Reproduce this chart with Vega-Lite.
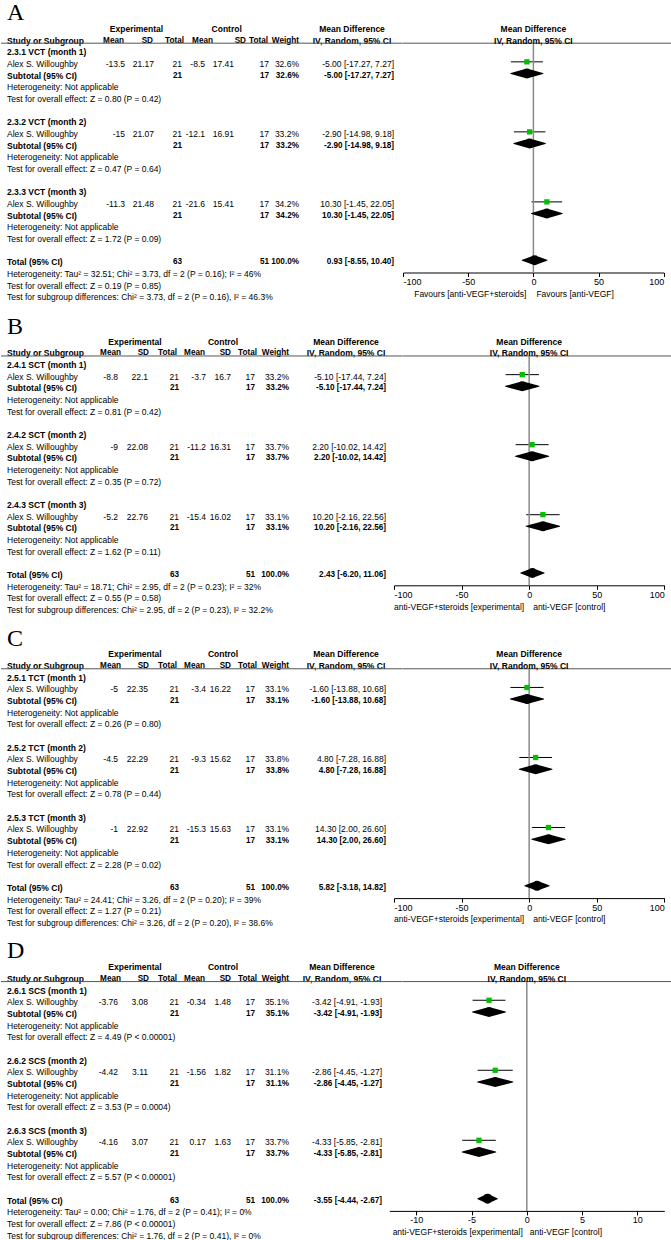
{
"$schema": "https://vega.github.io/schema/vega-lite/v6.json",
"padding": 0,
"bounds": "flush",
"columns": 2,
"spacing": {"row": 39.8, "column": 0},
"config": {
 "view": {"stroke": null},
 "font": "Liberation Sans",
 "text": {"font": "Liberation Sans", "fontSize": 8.5, "color": "#000", "baseline": "middle", "dy": 2},
 "axis": {"labelFont": "Liberation Sans", "labelFontSize": 9, "labelColor": "#000", "domainColor": "#000", "tickColor": "#000", "tickSize": 4, "labelPadding": 1, "grid": false, "labelFlush": true, "domainWidth": 1, "tickWidth": 1, "labelAngle": 0, "labelExpr": "'' + datum.value"}
},
"datasets": {
"tA": [
{"row":-3,"col":0,"text":"A","kind":"letter"},
{"row":-2,"col":16,"text":"Experimental","kind":"hdr"},
{"row":-2,"col":17,"text":"Control","kind":"hdr"},
{"row":-2,"col":18,"text":"Mean Difference","kind":"hdr"},
{"row":-1,"col":0,"text":"Study or Subgroup","kind":"hdr"},
{"row":-1,"col":9,"text":"Mean","kind":"hdr"},
{"row":-1,"col":10,"text":"SD","kind":"hdr"},
{"row":-1,"col":11,"text":"Total","kind":"hdr"},
{"row":-1,"col":12,"text":"Mean","kind":"hdr"},
{"row":-1,"col":13,"text":"SD","kind":"hdr"},
{"row":-1,"col":14,"text":"Total","kind":"hdr"},
{"row":-1,"col":15,"text":"Weight","kind":"hdr"},
{"row":-1,"col":18,"text":"IV, Random, 95% CI","kind":"hdr"},
{"row":0,"col":0,"text":"2.3.1 VCT (month 1)","kind":"group"},
{"row":1,"col":0,"text":"Alex S. Willoughby","kind":"study"},
{"row":1,"col":1,"text":"-13.5","kind":"study"},
{"row":1,"col":2,"text":"21.17","kind":"study"},
{"row":1,"col":3,"text":"21","kind":"study"},
{"row":1,"col":4,"text":"-8.5","kind":"study"},
{"row":1,"col":5,"text":"17.41","kind":"study"},
{"row":1,"col":6,"text":"17","kind":"study"},
{"row":1,"col":7,"text":"32.6%","kind":"study"},
{"row":1,"col":8,"text":"-5.00 [-17.27, 7.27]","kind":"study"},
{"row":2,"col":0,"text":"Subtotal (95% CI)","kind":"sub"},
{"row":2,"col":3,"text":"21","kind":"sub"},
{"row":2,"col":6,"text":"17","kind":"sub"},
{"row":2,"col":7,"text":"32.6%","kind":"sub"},
{"row":2,"col":8,"text":"-5.00 [-17.27, 7.27]","kind":"sub"},
{"row":3,"col":0,"text":"Heterogeneity: Not applicable","kind":"note"},
{"row":4,"col":0,"text":"Test for overall effect: Z = 0.80 (P = 0.42)","kind":"note"},
{"row":6,"col":0,"text":"2.3.2 VCT (month 2)","kind":"group"},
{"row":7,"col":0,"text":"Alex S. Willoughby","kind":"study"},
{"row":7,"col":1,"text":"-15","kind":"study"},
{"row":7,"col":2,"text":"21.07","kind":"study"},
{"row":7,"col":3,"text":"21","kind":"study"},
{"row":7,"col":4,"text":"-12.1","kind":"study"},
{"row":7,"col":5,"text":"16.91","kind":"study"},
{"row":7,"col":6,"text":"17","kind":"study"},
{"row":7,"col":7,"text":"33.2%","kind":"study"},
{"row":7,"col":8,"text":"-2.90 [-14.98, 9.18]","kind":"study"},
{"row":8,"col":0,"text":"Subtotal (95% CI)","kind":"sub"},
{"row":8,"col":3,"text":"21","kind":"sub"},
{"row":8,"col":6,"text":"17","kind":"sub"},
{"row":8,"col":7,"text":"33.2%","kind":"sub"},
{"row":8,"col":8,"text":"-2.90 [-14.98, 9.18]","kind":"sub"},
{"row":9,"col":0,"text":"Heterogeneity: Not applicable","kind":"note"},
{"row":10,"col":0,"text":"Test for overall effect: Z = 0.47 (P = 0.64)","kind":"note"},
{"row":12,"col":0,"text":"2.3.3 VCT (month 3)","kind":"group"},
{"row":13,"col":0,"text":"Alex S. Willoughby","kind":"study"},
{"row":13,"col":1,"text":"-11.3","kind":"study"},
{"row":13,"col":2,"text":"21.48","kind":"study"},
{"row":13,"col":3,"text":"21","kind":"study"},
{"row":13,"col":4,"text":"-21.6","kind":"study"},
{"row":13,"col":5,"text":"15.41","kind":"study"},
{"row":13,"col":6,"text":"17","kind":"study"},
{"row":13,"col":7,"text":"34.2%","kind":"study"},
{"row":13,"col":8,"text":"10.30 [-1.45, 22.05]","kind":"study"},
{"row":14,"col":0,"text":"Subtotal (95% CI)","kind":"sub"},
{"row":14,"col":3,"text":"21","kind":"sub"},
{"row":14,"col":6,"text":"17","kind":"sub"},
{"row":14,"col":7,"text":"34.2%","kind":"sub"},
{"row":14,"col":8,"text":"10.30 [-1.45, 22.05]","kind":"sub"},
{"row":15,"col":0,"text":"Heterogeneity: Not applicable","kind":"note"},
{"row":16,"col":0,"text":"Test for overall effect: Z = 1.72 (P = 0.09)","kind":"note"},
{"row":18,"col":0,"text":"Total (95% CI)","kind":"total"},
{"row":18,"col":3,"text":"63","kind":"total"},
{"row":18,"col":6,"text":"51","kind":"total"},
{"row":18,"col":7,"text":"100.0%","kind":"total"},
{"row":18,"col":8,"text":"0.93 [-8.55, 10.40]","kind":"total"},
{"row":19,"col":0,"text":"Heterogeneity: Tau² = 32.51; Chi² = 3.73, df = 2 (P = 0.16); I² = 46%","kind":"note"},
{"row":20,"col":0,"text":"Test for overall effect: Z = 0.19 (P = 0.85)","kind":"note"},
{"row":21,"col":0,"text":"Test for subgroup differences: Chi² = 3.73, df = 2 (P = 0.16), I² = 46.3%","kind":"note"}
],
"tB": [
{"row":-3,"col":0,"text":"B","kind":"letter"},
{"row":-2,"col":16,"text":"Experimental","kind":"hdr"},
{"row":-2,"col":17,"text":"Control","kind":"hdr"},
{"row":-2,"col":18,"text":"Mean Difference","kind":"hdr"},
{"row":-1,"col":0,"text":"Study or Subgroup","kind":"hdr"},
{"row":-1,"col":9,"text":"Mean","kind":"hdr"},
{"row":-1,"col":10,"text":"SD","kind":"hdr"},
{"row":-1,"col":11,"text":"Total","kind":"hdr"},
{"row":-1,"col":12,"text":"Mean","kind":"hdr"},
{"row":-1,"col":13,"text":"SD","kind":"hdr"},
{"row":-1,"col":14,"text":"Total","kind":"hdr"},
{"row":-1,"col":15,"text":"Weight","kind":"hdr"},
{"row":-1,"col":18,"text":"IV, Random, 95% CI","kind":"hdr"},
{"row":0,"col":0,"text":"2.4.1 SCT (month 1)","kind":"group"},
{"row":1,"col":0,"text":"Alex S. Willoughby","kind":"study"},
{"row":1,"col":1,"text":"-8.8","kind":"study"},
{"row":1,"col":2,"text":"22.1","kind":"study"},
{"row":1,"col":3,"text":"21","kind":"study"},
{"row":1,"col":4,"text":"-3.7","kind":"study"},
{"row":1,"col":5,"text":"16.7","kind":"study"},
{"row":1,"col":6,"text":"17","kind":"study"},
{"row":1,"col":7,"text":"33.2%","kind":"study"},
{"row":1,"col":8,"text":"-5.10 [-17.44, 7.24]","kind":"study"},
{"row":2,"col":0,"text":"Subtotal (95% CI)","kind":"sub"},
{"row":2,"col":3,"text":"21","kind":"sub"},
{"row":2,"col":6,"text":"17","kind":"sub"},
{"row":2,"col":7,"text":"33.2%","kind":"sub"},
{"row":2,"col":8,"text":"-5.10 [-17.44, 7.24]","kind":"sub"},
{"row":3,"col":0,"text":"Heterogeneity: Not applicable","kind":"note"},
{"row":4,"col":0,"text":"Test for overall effect: Z = 0.81 (P = 0.42)","kind":"note"},
{"row":6,"col":0,"text":"2.4.2 SCT (month 2)","kind":"group"},
{"row":7,"col":0,"text":"Alex S. Willoughby","kind":"study"},
{"row":7,"col":1,"text":"-9","kind":"study"},
{"row":7,"col":2,"text":"22.08","kind":"study"},
{"row":7,"col":3,"text":"21","kind":"study"},
{"row":7,"col":4,"text":"-11.2","kind":"study"},
{"row":7,"col":5,"text":"16.31","kind":"study"},
{"row":7,"col":6,"text":"17","kind":"study"},
{"row":7,"col":7,"text":"33.7%","kind":"study"},
{"row":7,"col":8,"text":"2.20 [-10.02, 14.42]","kind":"study"},
{"row":8,"col":0,"text":"Subtotal (95% CI)","kind":"sub"},
{"row":8,"col":3,"text":"21","kind":"sub"},
{"row":8,"col":6,"text":"17","kind":"sub"},
{"row":8,"col":7,"text":"33.7%","kind":"sub"},
{"row":8,"col":8,"text":"2.20 [-10.02, 14.42]","kind":"sub"},
{"row":9,"col":0,"text":"Heterogeneity: Not applicable","kind":"note"},
{"row":10,"col":0,"text":"Test for overall effect: Z = 0.35 (P = 0.72)","kind":"note"},
{"row":12,"col":0,"text":"2.4.3 SCT (month 3)","kind":"group"},
{"row":13,"col":0,"text":"Alex S. Willoughby","kind":"study"},
{"row":13,"col":1,"text":"-5.2","kind":"study"},
{"row":13,"col":2,"text":"22.76","kind":"study"},
{"row":13,"col":3,"text":"21","kind":"study"},
{"row":13,"col":4,"text":"-15.4","kind":"study"},
{"row":13,"col":5,"text":"16.02","kind":"study"},
{"row":13,"col":6,"text":"17","kind":"study"},
{"row":13,"col":7,"text":"33.1%","kind":"study"},
{"row":13,"col":8,"text":"10.20 [-2.16, 22.56]","kind":"study"},
{"row":14,"col":0,"text":"Subtotal (95% CI)","kind":"sub"},
{"row":14,"col":3,"text":"21","kind":"sub"},
{"row":14,"col":6,"text":"17","kind":"sub"},
{"row":14,"col":7,"text":"33.1%","kind":"sub"},
{"row":14,"col":8,"text":"10.20 [-2.16, 22.56]","kind":"sub"},
{"row":15,"col":0,"text":"Heterogeneity: Not applicable","kind":"note"},
{"row":16,"col":0,"text":"Test for overall effect: Z = 1.62 (P = 0.11)","kind":"note"},
{"row":18,"col":0,"text":"Total (95% CI)","kind":"total"},
{"row":18,"col":3,"text":"63","kind":"total"},
{"row":18,"col":6,"text":"51","kind":"total"},
{"row":18,"col":7,"text":"100.0%","kind":"total"},
{"row":18,"col":8,"text":"2.43 [-6.20, 11.06]","kind":"total"},
{"row":19,"col":0,"text":"Heterogeneity: Tau² = 18.71; Chi² = 2.95, df = 2 (P = 0.23); I² = 32%","kind":"note"},
{"row":20,"col":0,"text":"Test for overall effect: Z = 0.55 (P = 0.58)","kind":"note"},
{"row":21,"col":0,"text":"Test for subgroup differences: Chi² = 2.95, df = 2 (P = 0.23), I² = 32.2%","kind":"note"}
],
"tC": [
{"row":-3,"col":0,"text":"C","kind":"letter"},
{"row":-2,"col":16,"text":"Experimental","kind":"hdr"},
{"row":-2,"col":17,"text":"Control","kind":"hdr"},
{"row":-2,"col":18,"text":"Mean Difference","kind":"hdr"},
{"row":-1,"col":0,"text":"Study or Subgroup","kind":"hdr"},
{"row":-1,"col":9,"text":"Mean","kind":"hdr"},
{"row":-1,"col":10,"text":"SD","kind":"hdr"},
{"row":-1,"col":11,"text":"Total","kind":"hdr"},
{"row":-1,"col":12,"text":"Mean","kind":"hdr"},
{"row":-1,"col":13,"text":"SD","kind":"hdr"},
{"row":-1,"col":14,"text":"Total","kind":"hdr"},
{"row":-1,"col":15,"text":"Weight","kind":"hdr"},
{"row":-1,"col":18,"text":"IV, Random, 95% CI","kind":"hdr"},
{"row":0,"col":0,"text":"2.5.1 TCT (month 1)","kind":"group"},
{"row":1,"col":0,"text":"Alex S. Willoughby","kind":"study"},
{"row":1,"col":1,"text":"-5","kind":"study"},
{"row":1,"col":2,"text":"22.35","kind":"study"},
{"row":1,"col":3,"text":"21","kind":"study"},
{"row":1,"col":4,"text":"-3.4","kind":"study"},
{"row":1,"col":5,"text":"16.22","kind":"study"},
{"row":1,"col":6,"text":"17","kind":"study"},
{"row":1,"col":7,"text":"33.1%","kind":"study"},
{"row":1,"col":8,"text":"-1.60 [-13.88, 10.68]","kind":"study"},
{"row":2,"col":0,"text":"Subtotal (95% CI)","kind":"sub"},
{"row":2,"col":3,"text":"21","kind":"sub"},
{"row":2,"col":6,"text":"17","kind":"sub"},
{"row":2,"col":7,"text":"33.1%","kind":"sub"},
{"row":2,"col":8,"text":"-1.60 [-13.88, 10.68]","kind":"sub"},
{"row":3,"col":0,"text":"Heterogeneity: Not applicable","kind":"note"},
{"row":4,"col":0,"text":"Test for overall effect: Z = 0.26 (P = 0.80)","kind":"note"},
{"row":6,"col":0,"text":"2.5.2 TCT (month 2)","kind":"group"},
{"row":7,"col":0,"text":"Alex S. Willoughby","kind":"study"},
{"row":7,"col":1,"text":"-4.5","kind":"study"},
{"row":7,"col":2,"text":"22.29","kind":"study"},
{"row":7,"col":3,"text":"21","kind":"study"},
{"row":7,"col":4,"text":"-9.3","kind":"study"},
{"row":7,"col":5,"text":"15.62","kind":"study"},
{"row":7,"col":6,"text":"17","kind":"study"},
{"row":7,"col":7,"text":"33.8%","kind":"study"},
{"row":7,"col":8,"text":"4.80 [-7.28, 16.88]","kind":"study"},
{"row":8,"col":0,"text":"Subtotal (95% CI)","kind":"sub"},
{"row":8,"col":3,"text":"21","kind":"sub"},
{"row":8,"col":6,"text":"17","kind":"sub"},
{"row":8,"col":7,"text":"33.8%","kind":"sub"},
{"row":8,"col":8,"text":"4.80 [-7.28, 16.88]","kind":"sub"},
{"row":9,"col":0,"text":"Heterogeneity: Not applicable","kind":"note"},
{"row":10,"col":0,"text":"Test for overall effect: Z = 0.78 (P = 0.44)","kind":"note"},
{"row":12,"col":0,"text":"2.5.3 TCT (month 3)","kind":"group"},
{"row":13,"col":0,"text":"Alex S. Willoughby","kind":"study"},
{"row":13,"col":1,"text":"-1","kind":"study"},
{"row":13,"col":2,"text":"22.92","kind":"study"},
{"row":13,"col":3,"text":"21","kind":"study"},
{"row":13,"col":4,"text":"-15.3","kind":"study"},
{"row":13,"col":5,"text":"15.63","kind":"study"},
{"row":13,"col":6,"text":"17","kind":"study"},
{"row":13,"col":7,"text":"33.1%","kind":"study"},
{"row":13,"col":8,"text":"14.30 [2.00, 26.60]","kind":"study"},
{"row":14,"col":0,"text":"Subtotal (95% CI)","kind":"sub"},
{"row":14,"col":3,"text":"21","kind":"sub"},
{"row":14,"col":6,"text":"17","kind":"sub"},
{"row":14,"col":7,"text":"33.1%","kind":"sub"},
{"row":14,"col":8,"text":"14.30 [2.00, 26.60]","kind":"sub"},
{"row":15,"col":0,"text":"Heterogeneity: Not applicable","kind":"note"},
{"row":16,"col":0,"text":"Test for overall effect: Z = 2.28 (P = 0.02)","kind":"note"},
{"row":18,"col":0,"text":"Total (95% CI)","kind":"total"},
{"row":18,"col":3,"text":"63","kind":"total"},
{"row":18,"col":6,"text":"51","kind":"total"},
{"row":18,"col":7,"text":"100.0%","kind":"total"},
{"row":18,"col":8,"text":"5.82 [-3.18, 14.82]","kind":"total"},
{"row":19,"col":0,"text":"Heterogeneity: Tau² = 24.41; Chi² = 3.26, df = 2 (P = 0.20); I² = 39%","kind":"note"},
{"row":20,"col":0,"text":"Test for overall effect: Z = 1.27 (P = 0.21)","kind":"note"},
{"row":21,"col":0,"text":"Test for subgroup differences: Chi² = 3.26, df = 2 (P = 0.20), I² = 38.6%","kind":"note"}
],
"tD": [
{"row":-3,"col":0,"text":"D","kind":"letter"},
{"row":-2,"col":16,"text":"Experimental","kind":"hdr"},
{"row":-2,"col":17,"text":"Control","kind":"hdr"},
{"row":-2,"col":18,"text":"Mean Difference","kind":"hdr"},
{"row":-1,"col":0,"text":"Study or Subgroup","kind":"hdr"},
{"row":-1,"col":9,"text":"Mean","kind":"hdr"},
{"row":-1,"col":10,"text":"SD","kind":"hdr"},
{"row":-1,"col":11,"text":"Total","kind":"hdr"},
{"row":-1,"col":12,"text":"Mean","kind":"hdr"},
{"row":-1,"col":13,"text":"SD","kind":"hdr"},
{"row":-1,"col":14,"text":"Total","kind":"hdr"},
{"row":-1,"col":15,"text":"Weight","kind":"hdr"},
{"row":-1,"col":18,"text":"IV, Random, 95% CI","kind":"hdr"},
{"row":0,"col":0,"text":"2.6.1 SCS (month 1)","kind":"group"},
{"row":1,"col":0,"text":"Alex S. Willoughby","kind":"study"},
{"row":1,"col":1,"text":"-3.76","kind":"study"},
{"row":1,"col":2,"text":"3.08","kind":"study"},
{"row":1,"col":3,"text":"21","kind":"study"},
{"row":1,"col":4,"text":"-0.34","kind":"study"},
{"row":1,"col":5,"text":"1.48","kind":"study"},
{"row":1,"col":6,"text":"17","kind":"study"},
{"row":1,"col":7,"text":"35.1%","kind":"study"},
{"row":1,"col":8,"text":"-3.42 [-4.91, -1.93]","kind":"study"},
{"row":2,"col":0,"text":"Subtotal (95% CI)","kind":"sub"},
{"row":2,"col":3,"text":"21","kind":"sub"},
{"row":2,"col":6,"text":"17","kind":"sub"},
{"row":2,"col":7,"text":"35.1%","kind":"sub"},
{"row":2,"col":8,"text":"-3.42 [-4.91, -1.93]","kind":"sub"},
{"row":3,"col":0,"text":"Heterogeneity: Not applicable","kind":"note"},
{"row":4,"col":0,"text":"Test for overall effect: Z = 4.49 (P < 0.00001)","kind":"note"},
{"row":6,"col":0,"text":"2.6.2 SCS (month 2)","kind":"group"},
{"row":7,"col":0,"text":"Alex S. Willoughby","kind":"study"},
{"row":7,"col":1,"text":"-4.42","kind":"study"},
{"row":7,"col":2,"text":"3.11","kind":"study"},
{"row":7,"col":3,"text":"21","kind":"study"},
{"row":7,"col":4,"text":"-1.56","kind":"study"},
{"row":7,"col":5,"text":"1.82","kind":"study"},
{"row":7,"col":6,"text":"17","kind":"study"},
{"row":7,"col":7,"text":"31.1%","kind":"study"},
{"row":7,"col":8,"text":"-2.86 [-4.45, -1.27]","kind":"study"},
{"row":8,"col":0,"text":"Subtotal (95% CI)","kind":"sub"},
{"row":8,"col":3,"text":"21","kind":"sub"},
{"row":8,"col":6,"text":"17","kind":"sub"},
{"row":8,"col":7,"text":"31.1%","kind":"sub"},
{"row":8,"col":8,"text":"-2.86 [-4.45, -1.27]","kind":"sub"},
{"row":9,"col":0,"text":"Heterogeneity: Not applicable","kind":"note"},
{"row":10,"col":0,"text":"Test for overall effect: Z = 3.53 (P = 0.0004)","kind":"note"},
{"row":12,"col":0,"text":"2.6.3 SCS (month 3)","kind":"group"},
{"row":13,"col":0,"text":"Alex S. Willoughby","kind":"study"},
{"row":13,"col":1,"text":"-4.16","kind":"study"},
{"row":13,"col":2,"text":"3.07","kind":"study"},
{"row":13,"col":3,"text":"21","kind":"study"},
{"row":13,"col":4,"text":"0.17","kind":"study"},
{"row":13,"col":5,"text":"1.63","kind":"study"},
{"row":13,"col":6,"text":"17","kind":"study"},
{"row":13,"col":7,"text":"33.7%","kind":"study"},
{"row":13,"col":8,"text":"-4.33 [-5.85, -2.81]","kind":"study"},
{"row":14,"col":0,"text":"Subtotal (95% CI)","kind":"sub"},
{"row":14,"col":3,"text":"21","kind":"sub"},
{"row":14,"col":6,"text":"17","kind":"sub"},
{"row":14,"col":7,"text":"33.7%","kind":"sub"},
{"row":14,"col":8,"text":"-4.33 [-5.85, -2.81]","kind":"sub"},
{"row":15,"col":0,"text":"Heterogeneity: Not applicable","kind":"note"},
{"row":16,"col":0,"text":"Test for overall effect: Z = 5.57 (P < 0.00001)","kind":"note"},
{"row":18,"col":0,"text":"Total (95% CI)","kind":"total"},
{"row":18,"col":3,"text":"63","kind":"total"},
{"row":18,"col":6,"text":"51","kind":"total"},
{"row":18,"col":7,"text":"100.0%","kind":"total"},
{"row":18,"col":8,"text":"-3.55 [-4.44, -2.67]","kind":"total"},
{"row":19,"col":0,"text":"Heterogeneity: Tau² = 0.00; Chi² = 1.76, df = 2 (P = 0.41); I² = 0%","kind":"note"},
{"row":20,"col":0,"text":"Test for overall effect: Z = 7.86 (P < 0.00001)","kind":"note"},
{"row":21,"col":0,"text":"Test for subgroup differences: Chi² = 1.76, df = 2 (P = 0.41), I² = 0%","kind":"note"}
],
"fA": [
{"row":1,"kind":"study","md":-5.00,"lo":-17.27,"hi":7.27},
{"row":2,"kind":"sub","md":-5.00,"lo":-17.27,"hi":7.27},
{"row":7,"kind":"study","md":-2.90,"lo":-14.98,"hi":9.18},
{"row":8,"kind":"sub","md":-2.90,"lo":-14.98,"hi":9.18},
{"row":13,"kind":"study","md":10.30,"lo":-1.45,"hi":22.05},
{"row":14,"kind":"sub","md":10.30,"lo":-1.45,"hi":22.05},
{"row":18,"kind":"total","md":0.93,"lo":-8.55,"hi":10.40}
],
"fB": [
{"row":1,"kind":"study","md":-5.10,"lo":-17.44,"hi":7.24},
{"row":2,"kind":"sub","md":-5.10,"lo":-17.44,"hi":7.24},
{"row":7,"kind":"study","md":2.20,"lo":-10.02,"hi":14.42},
{"row":8,"kind":"sub","md":2.20,"lo":-10.02,"hi":14.42},
{"row":13,"kind":"study","md":10.20,"lo":-2.16,"hi":22.56},
{"row":14,"kind":"sub","md":10.20,"lo":-2.16,"hi":22.56},
{"row":18,"kind":"total","md":2.43,"lo":-6.20,"hi":11.06}
],
"fC": [
{"row":1,"kind":"study","md":-1.60,"lo":-13.88,"hi":10.68},
{"row":2,"kind":"sub","md":-1.60,"lo":-13.88,"hi":10.68},
{"row":7,"kind":"study","md":4.80,"lo":-7.28,"hi":16.88},
{"row":8,"kind":"sub","md":4.80,"lo":-7.28,"hi":16.88},
{"row":13,"kind":"study","md":14.30,"lo":2.00,"hi":26.60},
{"row":14,"kind":"sub","md":14.30,"lo":2.00,"hi":26.60},
{"row":18,"kind":"total","md":5.82,"lo":-3.18,"hi":14.82}
],
"fD": [
{"row":1,"kind":"study","md":-3.42,"lo":-4.91,"hi":-1.93},
{"row":2,"kind":"sub","md":-3.42,"lo":-4.91,"hi":-1.93},
{"row":7,"kind":"study","md":-2.86,"lo":-4.45,"hi":-1.27},
{"row":8,"kind":"sub","md":-2.86,"lo":-4.45,"hi":-1.27},
{"row":13,"kind":"study","md":-4.33,"lo":-5.85,"hi":-2.81},
{"row":14,"kind":"sub","md":-4.33,"lo":-5.85,"hi":-2.81},
{"row":18,"kind":"total","md":-3.55,"lo":-4.44,"hi":-2.67}
]
},
"concat": [
{
 "width": 401.7, "height": 272.5,
 "layer": [
  {
   "data": {"name": "tA"},
   "encoding": {
    "x": {"field": "col", "type": "quantitative", "axis": null, "scale": {"domain": [0,1,2,3,4,5,6,7,8,9,10,11,12,13,14,15,16,17,18], "range": [6,124,153,181,204,233,268,298,393,123,152,183,212,245,267,298,135.5,225.7,351], "nice": false, "zero": false}},
    "y": {"field": "row", "type": "quantitative", "axis": null, "scale": {"domain": [-4.3, 19.05], "reverse": true, "nice": false, "zero": false}},
    "text": {"field": "text", "type": "nominal"}
   },
   "layer": [
    {"transform": [{"filter": "datum.col == 0 && (datum.kind == 'study' || datum.kind == 'note')"}], "mark": {"type": "text", "align": "left"}},
    {"transform": [{"filter": "datum.col == 0 && (datum.kind == 'group' || datum.kind == 'sub' || datum.kind == 'total' || datum.kind == 'hdr')"}], "mark": {"type": "text", "align": "left", "fontWeight": "bold"}},
    {"transform": [{"filter": "datum.col >= 1 && datum.col <= 15 && datum.kind == 'study'"}], "mark": {"type": "text", "align": "right"}},
    {"transform": [{"filter": "datum.col >= 1 && datum.col <= 15 && datum.kind != 'study'"}], "mark": {"type": "text", "align": "right", "fontWeight": "bold", "fontSize": 8.2}},
    {"transform": [{"filter": "datum.col >= 16"}], "mark": {"type": "text", "align": "center", "fontWeight": "bold"}},
    {"transform": [{"filter": "datum.kind == 'letter'"}], "mark": {"type": "text", "align": "left", "font": "Liberation Serif", "fontSize": 24, "dy": -2.5}}
   ]
  },
  {"data": {"values": [{}]}, "mark": {"type": "rule", "color": "#555", "strokeWidth": 1}, "encoding": {"y": {"datum": -0.6, "type": "quantitative", "axis": null, "scale": {"domain": [-4.3, 19.05], "reverse": true, "nice": false, "zero": false}}}}
 ]
},
{
 "width": 269.3, "height": 272.5,
 "layer": [
  {"data": {"values": [{}]}, "mark": {"type": "rule", "color": "#555", "strokeWidth": 1}, "encoding": {"y": {"datum": -0.6, "type": "quantitative", "axis": null, "scale": {"domain": [-4.3, 19.05], "reverse": true, "nice": false, "zero": false}}}},
  {"data": {"name": "fA"}, "transform": [{"filter": "datum.kind == 'study'"}], "mark": {"type": "rule", "color": "#000", "strokeWidth": 1},
   "encoding": {"x": {"field": "lo", "type": "quantitative", "axis": {"values": [-100,-50,0,50,100], "title": null}, "scale": {"domain": [-100, 100], "range": [0, 260.8], "nice": false, "zero": false}}, "x2": {"field": "hi"},
    "y": {"field": "row", "type": "quantitative", "axis": null, "scale": {"domain": [-4.3, 19.05], "reverse": true, "nice": false, "zero": false}}}},
  {"data": {"values": [{}]}, "mark": {"type": "rule", "color": "#8a8a8a", "strokeWidth": 1.5},
   "encoding": {"x": {"datum": 0, "type": "quantitative"}, "y": {"datum": -0.6, "type": "quantitative", "axis": null}, "y2": {"datum": 19.05}}},
  {"data": {"name": "fA"}, "transform": [{"filter": "datum.kind == 'study'"}], "mark": {"type": "square", "filled": true, "color": "#00c000", "size": 28, "opacity": 1},
   "encoding": {"x": {"field": "md", "type": "quantitative"}, "y": {"field": "row", "type": "quantitative", "axis": null}}},
  {"data": {"name": "fA"}, "transform": [{"filter": "datum.kind != 'study'"}, {"fold": ["lo", "md", "hi"]}], "mark": {"type": "trail", "color": "#000"},
   "encoding": {"x": {"field": "value", "type": "quantitative"}, "y": {"field": "row", "type": "quantitative", "axis": null},
    "detail": {"field": "row", "type": "nominal"}, "order": {"field": "value", "type": "quantitative"},
    "size": {"condition": {"test": "datum.key == 'md'", "value": 10}, "value": 0}}},
  {"data": {"values": [{"row": -2, "text": "Mean Difference"}, {"row": -1, "text": "IV, Random, 95% CI"}]}, "mark": {"type": "text", "fontWeight": "bold", "align": "center"},
   "encoding": {"x": {"datum": 0, "type": "quantitative"}, "y": {"field": "row", "type": "quantitative", "axis": null}, "text": {"field": "text"}}},
  {"data": {"values": [{"label": "Favours [anti-VEGF+steroids]"}]}, "mark": {"type": "text", "align": "right", "dx": -7},
   "encoding": {"x": {"datum": 0, "type": "quantitative"}, "y": {"datum": 20.7, "type": "quantitative", "axis": null}, "text": {"field": "label"}}},
  {"data": {"values": [{"label": "Favours [anti-VEGF]"}]}, "mark": {"type": "text", "align": "left", "dx": 3},
   "encoding": {"x": {"datum": 0, "type": "quantitative"}, "y": {"datum": 20.7, "type": "quantitative", "axis": null}, "text": {"field": "label"}}}
 ]
},
{
 "width": 401.7, "height": 272.5,
 "layer": [
  {
   "data": {"name": "tB"},
   "encoding": {
    "x": {"field": "col", "type": "quantitative", "axis": null, "scale": {"domain": [0,1,2,3,4,5,6,7,8,9,10,11,12,13,14,15,16,17,18], "range": [6,117,147,178,205,230,254,288,385,120,148,176,204,230,256,288,134,222,345], "nice": false, "zero": false}},
    "y": {"field": "row", "type": "quantitative", "axis": null, "scale": {"domain": [-4.3, 19.05], "reverse": true, "nice": false, "zero": false}},
    "text": {"field": "text", "type": "nominal"}
   },
   "layer": [
    {"transform": [{"filter": "datum.col == 0 && (datum.kind == 'study' || datum.kind == 'note')"}], "mark": {"type": "text", "align": "left"}},
    {"transform": [{"filter": "datum.col == 0 && (datum.kind == 'group' || datum.kind == 'sub' || datum.kind == 'total' || datum.kind == 'hdr')"}], "mark": {"type": "text", "align": "left", "fontWeight": "bold"}},
    {"transform": [{"filter": "datum.col >= 1 && datum.col <= 15 && datum.kind == 'study'"}], "mark": {"type": "text", "align": "right"}},
    {"transform": [{"filter": "datum.col >= 1 && datum.col <= 15 && datum.kind != 'study'"}], "mark": {"type": "text", "align": "right", "fontWeight": "bold", "fontSize": 8.2}},
    {"transform": [{"filter": "datum.col >= 16"}], "mark": {"type": "text", "align": "center", "fontWeight": "bold"}},
    {"transform": [{"filter": "datum.kind == 'letter'"}], "mark": {"type": "text", "align": "left", "font": "Liberation Serif", "fontSize": 24, "dy": -1}}
   ]
  },
  {"data": {"values": [{}]}, "mark": {"type": "rule", "color": "#555", "strokeWidth": 1}, "encoding": {"y": {"datum": -0.6, "type": "quantitative", "axis": null, "scale": {"domain": [-4.3, 19.05], "reverse": true, "nice": false, "zero": false}}}}
 ]
},
{
 "width": 269.3, "height": 272.5,
 "layer": [
  {"data": {"values": [{}]}, "mark": {"type": "rule", "color": "#555", "strokeWidth": 1}, "encoding": {"y": {"datum": -0.6, "type": "quantitative", "axis": null, "scale": {"domain": [-4.3, 19.05], "reverse": true, "nice": false, "zero": false}}}},
  {"data": {"name": "fB"}, "transform": [{"filter": "datum.kind == 'study'"}], "mark": {"type": "rule", "color": "#000", "strokeWidth": 1},
   "encoding": {"x": {"field": "lo", "type": "quantitative", "axis": {"values": [-100,-50,0,50,100], "title": null}, "scale": {"domain": [-100, 100], "range": [-9, 261.3], "nice": false, "zero": false}}, "x2": {"field": "hi"},
    "y": {"field": "row", "type": "quantitative", "axis": null, "scale": {"domain": [-4.3, 19.05], "reverse": true, "nice": false, "zero": false}}}},
  {"data": {"values": [{}]}, "mark": {"type": "rule", "color": "#8a8a8a", "strokeWidth": 1.5},
   "encoding": {"x": {"datum": 0, "type": "quantitative"}, "y": {"datum": -0.6, "type": "quantitative", "axis": null}, "y2": {"datum": 19.05}}},
  {"data": {"name": "fB"}, "transform": [{"filter": "datum.kind == 'study'"}], "mark": {"type": "square", "filled": true, "color": "#00c000", "size": 28, "opacity": 1},
   "encoding": {"x": {"field": "md", "type": "quantitative"}, "y": {"field": "row", "type": "quantitative", "axis": null}}},
  {"data": {"name": "fB"}, "transform": [{"filter": "datum.kind != 'study'"}, {"fold": ["lo", "md", "hi"]}], "mark": {"type": "trail", "color": "#000"},
   "encoding": {"x": {"field": "value", "type": "quantitative"}, "y": {"field": "row", "type": "quantitative", "axis": null},
    "detail": {"field": "row", "type": "nominal"}, "order": {"field": "value", "type": "quantitative"},
    "size": {"condition": {"test": "datum.key == 'md'", "value": 10}, "value": 0}}},
  {"data": {"values": [{"row": -2, "text": "Mean Difference"}, {"row": -1, "text": "IV, Random, 95% CI"}]}, "mark": {"type": "text", "fontWeight": "bold", "align": "center"},
   "encoding": {"x": {"datum": 0, "type": "quantitative"}, "y": {"field": "row", "type": "quantitative", "axis": null}, "text": {"field": "text"}}},
  {"data": {"values": [{"label": "anti-VEGF+steroids [experimental]"}]}, "mark": {"type": "text", "align": "right", "dx": -5},
   "encoding": {"x": {"datum": 0, "type": "quantitative"}, "y": {"datum": 20.7, "type": "quantitative", "axis": null}, "text": {"field": "label"}}},
  {"data": {"values": [{"label": "anti-VEGF [control]"}]}, "mark": {"type": "text", "align": "left", "dx": 4},
   "encoding": {"x": {"datum": 0, "type": "quantitative"}, "y": {"datum": 20.7, "type": "quantitative", "axis": null}, "text": {"field": "label"}}}
 ]
},
{
 "width": 401.7, "height": 272.5,
 "layer": [
  {
   "data": {"name": "tC"},
   "encoding": {
    "x": {"field": "col", "type": "quantitative", "axis": null, "scale": {"domain": [0,1,2,3,4,5,6,7,8,9,10,11,12,13,14,15,16,17,18], "range": [6,117,147,178,205,230,254,288,385,120,148,176,204,230,256,288,134,222,345], "nice": false, "zero": false}},
    "y": {"field": "row", "type": "quantitative", "axis": null, "scale": {"domain": [-4.3, 19.05], "reverse": true, "nice": false, "zero": false}},
    "text": {"field": "text", "type": "nominal"}
   },
   "layer": [
    {"transform": [{"filter": "datum.col == 0 && (datum.kind == 'study' || datum.kind == 'note')"}], "mark": {"type": "text", "align": "left"}},
    {"transform": [{"filter": "datum.col == 0 && (datum.kind == 'group' || datum.kind == 'sub' || datum.kind == 'total' || datum.kind == 'hdr')"}], "mark": {"type": "text", "align": "left", "fontWeight": "bold"}},
    {"transform": [{"filter": "datum.col >= 1 && datum.col <= 15 && datum.kind == 'study'"}], "mark": {"type": "text", "align": "right"}},
    {"transform": [{"filter": "datum.col >= 1 && datum.col <= 15 && datum.kind != 'study'"}], "mark": {"type": "text", "align": "right", "fontWeight": "bold", "fontSize": 8.2}},
    {"transform": [{"filter": "datum.col >= 16"}], "mark": {"type": "text", "align": "center", "fontWeight": "bold"}},
    {"transform": [{"filter": "datum.kind == 'letter'"}], "mark": {"type": "text", "align": "left", "font": "Liberation Serif", "fontSize": 24, "dy": -2}}
   ]
  },
  {"data": {"values": [{}]}, "mark": {"type": "rule", "color": "#555", "strokeWidth": 1}, "encoding": {"y": {"datum": -0.6, "type": "quantitative", "axis": null, "scale": {"domain": [-4.3, 19.05], "reverse": true, "nice": false, "zero": false}}}}
 ]
},
{
 "width": 269.3, "height": 272.5,
 "layer": [
  {"data": {"values": [{}]}, "mark": {"type": "rule", "color": "#555", "strokeWidth": 1}, "encoding": {"y": {"datum": -0.6, "type": "quantitative", "axis": null, "scale": {"domain": [-4.3, 19.05], "reverse": true, "nice": false, "zero": false}}}},
  {"data": {"name": "fC"}, "transform": [{"filter": "datum.kind == 'study'"}], "mark": {"type": "rule", "color": "#000", "strokeWidth": 1},
   "encoding": {"x": {"field": "lo", "type": "quantitative", "axis": {"values": [-100,-50,0,50,100], "title": null}, "scale": {"domain": [-100, 100], "range": [-9, 261.3], "nice": false, "zero": false}}, "x2": {"field": "hi"},
    "y": {"field": "row", "type": "quantitative", "axis": null, "scale": {"domain": [-4.3, 19.05], "reverse": true, "nice": false, "zero": false}}}},
  {"data": {"values": [{}]}, "mark": {"type": "rule", "color": "#8a8a8a", "strokeWidth": 1.5},
   "encoding": {"x": {"datum": 0, "type": "quantitative"}, "y": {"datum": -0.6, "type": "quantitative", "axis": null}, "y2": {"datum": 19.05}}},
  {"data": {"name": "fC"}, "transform": [{"filter": "datum.kind == 'study'"}], "mark": {"type": "square", "filled": true, "color": "#00c000", "size": 28, "opacity": 1},
   "encoding": {"x": {"field": "md", "type": "quantitative"}, "y": {"field": "row", "type": "quantitative", "axis": null}}},
  {"data": {"name": "fC"}, "transform": [{"filter": "datum.kind != 'study'"}, {"fold": ["lo", "md", "hi"]}], "mark": {"type": "trail", "color": "#000"},
   "encoding": {"x": {"field": "value", "type": "quantitative"}, "y": {"field": "row", "type": "quantitative", "axis": null},
    "detail": {"field": "row", "type": "nominal"}, "order": {"field": "value", "type": "quantitative"},
    "size": {"condition": {"test": "datum.key == 'md'", "value": 10}, "value": 0}}},
  {"data": {"values": [{"row": -2, "text": "Mean Difference"}, {"row": -1, "text": "IV, Random, 95% CI"}]}, "mark": {"type": "text", "fontWeight": "bold", "align": "center"},
   "encoding": {"x": {"datum": 0, "type": "quantitative"}, "y": {"field": "row", "type": "quantitative", "axis": null}, "text": {"field": "text"}}},
  {"data": {"values": [{"label": "anti-VEGF+steroids [experimental]"}]}, "mark": {"type": "text", "align": "right", "dx": -5},
   "encoding": {"x": {"datum": 0, "type": "quantitative"}, "y": {"datum": 20.7, "type": "quantitative", "axis": null}, "text": {"field": "label"}}},
  {"data": {"values": [{"label": "anti-VEGF [control]"}]}, "mark": {"type": "text", "align": "left", "dx": 4},
   "encoding": {"x": {"datum": 0, "type": "quantitative"}, "y": {"datum": 20.7, "type": "quantitative", "axis": null}, "text": {"field": "label"}}}
 ]
},
{
 "width": 401.7, "height": 272.5,
 "layer": [
  {
   "data": {"name": "tD"},
   "encoding": {
    "x": {"field": "col", "type": "quantitative", "axis": null, "scale": {"domain": [0,1,2,3,4,5,6,7,8,9,10,11,12,13,14,15,16,17,18], "range": [6,117,147,178,205,230,254,288,381,120,148,176,204,230,256,288,134,222,341], "nice": false, "zero": false}},
    "y": {"field": "row", "type": "quantitative", "axis": null, "scale": {"domain": [-4.3, 19.05], "reverse": true, "nice": false, "zero": false}},
    "text": {"field": "text", "type": "nominal"}
   },
   "layer": [
    {"transform": [{"filter": "datum.col == 0 && (datum.kind == 'study' || datum.kind == 'note')"}], "mark": {"type": "text", "align": "left"}},
    {"transform": [{"filter": "datum.col == 0 && (datum.kind == 'group' || datum.kind == 'sub' || datum.kind == 'total' || datum.kind == 'hdr')"}], "mark": {"type": "text", "align": "left", "fontWeight": "bold"}},
    {"transform": [{"filter": "datum.col >= 1 && datum.col <= 15 && datum.kind == 'study'"}], "mark": {"type": "text", "align": "right"}},
    {"transform": [{"filter": "datum.col >= 1 && datum.col <= 15 && datum.kind != 'study'"}], "mark": {"type": "text", "align": "right", "fontWeight": "bold", "fontSize": 8.2}},
    {"transform": [{"filter": "datum.col >= 16"}], "mark": {"type": "text", "align": "center", "fontWeight": "bold"}},
    {"transform": [{"filter": "datum.kind == 'letter'"}], "mark": {"type": "text", "align": "left", "font": "Liberation Serif", "fontSize": 24, "dy": -2.5}}
   ]
  },
  {"data": {"values": [{}]}, "mark": {"type": "rule", "color": "#555", "strokeWidth": 1}, "encoding": {"y": {"datum": -0.6, "type": "quantitative", "axis": null, "scale": {"domain": [-4.3, 19.05], "reverse": true, "nice": false, "zero": false}}}}
 ]
},
{
 "width": 269.3, "height": 272.5,
 "layer": [
  {"data": {"values": [{}]}, "mark": {"type": "rule", "color": "#555", "strokeWidth": 1}, "encoding": {"y": {"datum": -0.6, "type": "quantitative", "axis": null, "scale": {"domain": [-4.3, 19.05], "reverse": true, "nice": false, "zero": false}}}},
  {"data": {"name": "fD"}, "transform": [{"filter": "datum.kind == 'study'"}], "mark": {"type": "rule", "color": "#000", "strokeWidth": 1},
   "encoding": {"x": {"field": "lo", "type": "quantitative", "axis": {"values": [-10,-5,0,5,10], "title": null}, "scale": {"domain": [-12.45, 12.45], "range": [-13.7, 261.3], "nice": false, "zero": false}}, "x2": {"field": "hi"},
    "y": {"field": "row", "type": "quantitative", "axis": null, "scale": {"domain": [-4.3, 19.05], "reverse": true, "nice": false, "zero": false}}}},
  {"data": {"values": [{}]}, "mark": {"type": "rule", "color": "#8a8a8a", "strokeWidth": 1.5},
   "encoding": {"x": {"datum": 0, "type": "quantitative"}, "y": {"datum": -0.6, "type": "quantitative", "axis": null}, "y2": {"datum": 19.05}}},
  {"data": {"name": "fD"}, "transform": [{"filter": "datum.kind == 'study'"}], "mark": {"type": "square", "filled": true, "color": "#00c000", "size": 28, "opacity": 1},
   "encoding": {"x": {"field": "md", "type": "quantitative"}, "y": {"field": "row", "type": "quantitative", "axis": null}}},
  {"data": {"name": "fD"}, "transform": [{"filter": "datum.kind != 'study'"}, {"fold": ["lo", "md", "hi"]}], "mark": {"type": "trail", "color": "#000"},
   "encoding": {"x": {"field": "value", "type": "quantitative"}, "y": {"field": "row", "type": "quantitative", "axis": null},
    "detail": {"field": "row", "type": "nominal"}, "order": {"field": "value", "type": "quantitative"},
    "size": {"condition": {"test": "datum.key == 'md'", "value": 10}, "value": 0}}},
  {"data": {"values": [{"row": -2, "text": "Mean Difference"}, {"row": -1, "text": "IV, Random, 95% CI"}]}, "mark": {"type": "text", "fontWeight": "bold", "align": "center"},
   "encoding": {"x": {"datum": 0, "type": "quantitative"}, "y": {"field": "row", "type": "quantitative", "axis": null}, "text": {"field": "text"}}},
  {"data": {"values": [{"label": "anti-VEGF+steroids [experimental]"}]}, "mark": {"type": "text", "align": "right", "dx": -4},
   "encoding": {"x": {"datum": 0, "type": "quantitative"}, "y": {"datum": 20.7, "type": "quantitative", "axis": null}, "text": {"field": "label"}}},
  {"data": {"values": [{"label": "anti-VEGF [control]"}]}, "mark": {"type": "text", "align": "left", "dx": 3},
   "encoding": {"x": {"datum": 0, "type": "quantitative"}, "y": {"datum": 20.7, "type": "quantitative", "axis": null}, "text": {"field": "label"}}}
 ]
}
]
}
